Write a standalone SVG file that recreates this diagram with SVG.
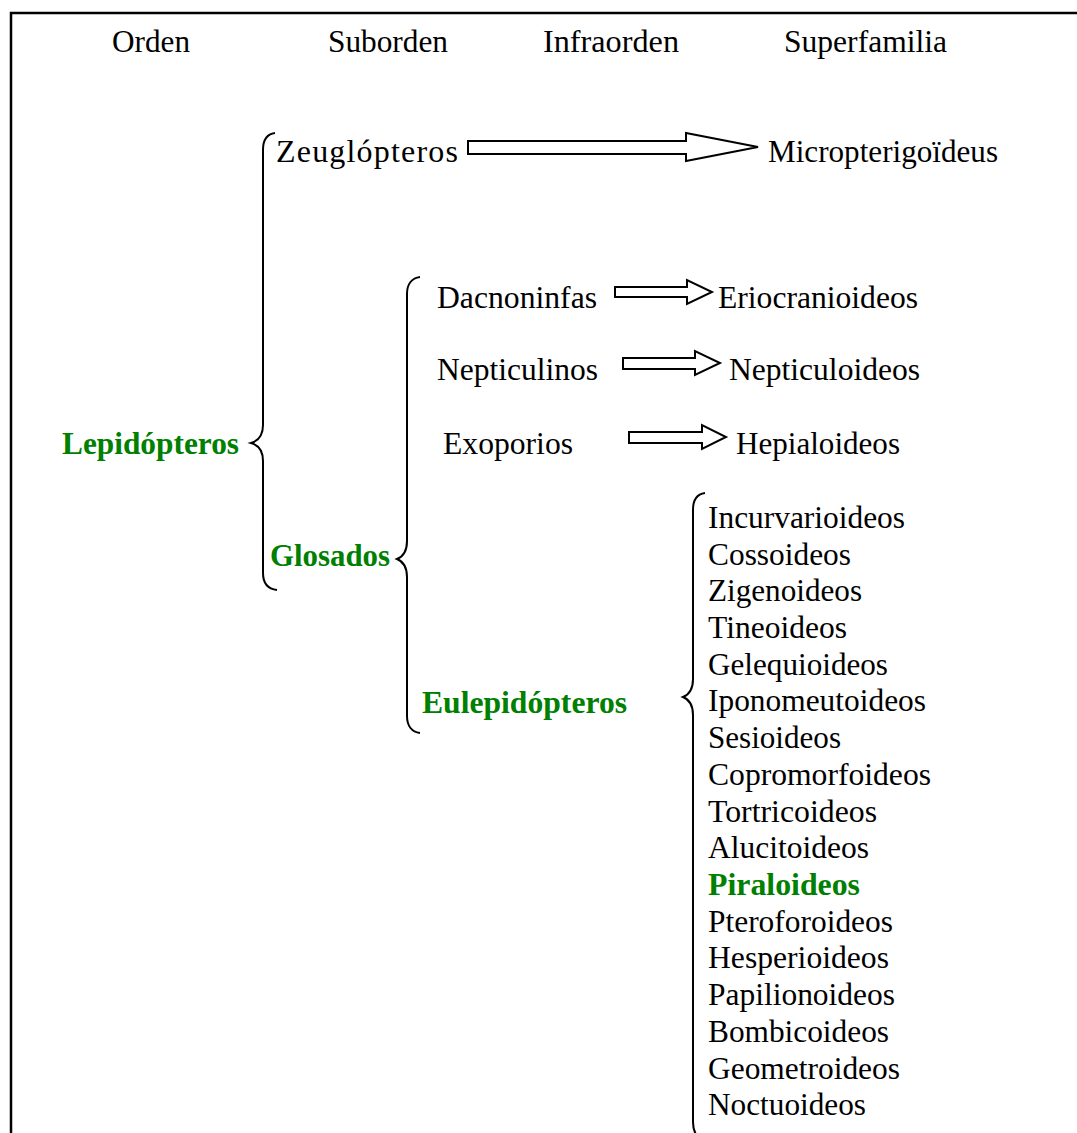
<svg xmlns="http://www.w3.org/2000/svg" width="1077" height="1133" viewBox="0 0 1077 1133">
<style>
text{font-family:"Liberation Serif","Times New Roman",serif;font-size:32px;fill:#000}
.g{fill:#008000;font-weight:bold}
.brace{fill:none;stroke:#000;stroke-width:2}
.arrow{fill:#fff;stroke:#000;stroke-width:2;stroke-linejoin:miter}
.frame{fill:none;stroke:#000;stroke-width:2.5}
</style>
<rect width="1077" height="1133" fill="#fff"/>
<path class="frame" d="M11,1133 L11,13 L1077,13"/>
<g id="headers">
<text x="112" y="52" textLength="78" lengthAdjust="spacingAndGlyphs">Orden</text>
<text x="328" y="52" textLength="120" lengthAdjust="spacingAndGlyphs">Suborden</text>
<text x="543" y="52" textLength="136" lengthAdjust="spacingAndGlyphs">Infraorden</text>
<text x="784" y="52" textLength="163" lengthAdjust="spacingAndGlyphs">Superfamilia</text>
</g>
<g id="connectors">
<path class="brace" d="M275,133 C267,134 263,140 263,150 L263,425 C263,436 258,441 251,443 C258,445 263,450 263,461 L263,573 C263,583 268,589 277,590"/>
<path class="brace" d="M420,277 C412,278 407,284 407,294 L407,541 C407,552 402,557 397,559 C402,561 407,566 407,577 L407,716 C407,726 412,732 420,733"/>
<path class="brace" d="M705,493 C697,494 693,500 693,510 L693,679 C693,690 688,695 683,697 C688,699 693,704 693,715 L693,1122 C693,1134 698,1140 708,1142"/>
<polygon class="arrow" points="468,141 686,141 686,133 758,147 686,161 686,154 468,154"/>
<polygon class="arrow" points="615,287 687,287 687,280 712,292 687,304 687,297 615,297"/>
<polygon class="arrow" points="623,358 695,358 695,351 720,363 695,375 695,369 623,369"/>
<polygon class="arrow" points="629,432 702,432 702,425 726,437 702,449 702,443 629,443"/>
</g>
<g id="lepidopteros"><text class="g" x="62" y="454" textLength="177" lengthAdjust="spacingAndGlyphs">Lepidópteros</text></g>
<g id="zeuglopteros"><text x="276" y="162" textLength="182">Zeuglópteros</text></g>
<g id="micropterigoideus"><text x="768" y="162" textLength="230" lengthAdjust="spacingAndGlyphs">Micropterigoïdeus</text></g>
<g id="glosados"><text class="g" x="270" y="566" textLength="120" lengthAdjust="spacingAndGlyphs">Glosados</text></g>
<g id="dacnoninfas"><text x="437" y="308" textLength="160" lengthAdjust="spacingAndGlyphs">Dacnoninfas</text></g>
<g id="eriocranioideos"><text x="718" y="308" textLength="200" lengthAdjust="spacingAndGlyphs">Eriocranioideos</text></g>
<g id="nepticulinos"><text x="437" y="380" textLength="161" lengthAdjust="spacingAndGlyphs">Nepticulinos</text></g>
<g id="nepticuloideos"><text x="729" y="380" textLength="191" lengthAdjust="spacingAndGlyphs">Nepticuloideos</text></g>
<g id="exoporios"><text x="443" y="454" textLength="130" lengthAdjust="spacingAndGlyphs">Exoporios</text></g>
<g id="hepialoideos"><text x="736" y="454" textLength="164" lengthAdjust="spacingAndGlyphs">Hepialoideos</text></g>
<g id="eulepidopteros"><text class="g" x="422" y="713" textLength="205" lengthAdjust="spacingAndGlyphs">Eulepidópteros</text></g>
<g id="superfamilias">
<text x="708" y="528" textLength="197" lengthAdjust="spacingAndGlyphs">Incurvarioideos</text>
<text x="708" y="565" textLength="143" lengthAdjust="spacingAndGlyphs">Cossoideos</text>
<text x="708" y="601" textLength="154" lengthAdjust="spacingAndGlyphs">Zigenoideos</text>
<text x="708" y="638" textLength="139" lengthAdjust="spacingAndGlyphs">Tineoideos</text>
<text x="708" y="675" textLength="180" lengthAdjust="spacingAndGlyphs">Gelequioideos</text>
<text x="708" y="711" textLength="218" lengthAdjust="spacingAndGlyphs">Iponomeutoideos</text>
<text x="708" y="748" textLength="133" lengthAdjust="spacingAndGlyphs">Sesioideos</text>
<text x="708" y="785" textLength="223" lengthAdjust="spacingAndGlyphs">Copromorfoideos</text>
<text x="708" y="822" textLength="169" lengthAdjust="spacingAndGlyphs">Tortricoideos</text>
<text x="708" y="858" textLength="161" lengthAdjust="spacingAndGlyphs">Alucitoideos</text>
<text class="g" x="708" y="895" textLength="152" lengthAdjust="spacingAndGlyphs">Piraloideos</text>
<text x="708" y="932" textLength="185" lengthAdjust="spacingAndGlyphs">Pteroforoideos</text>
<text x="708" y="968" textLength="181" lengthAdjust="spacingAndGlyphs">Hesperioideos</text>
<text x="708" y="1005" textLength="187" lengthAdjust="spacingAndGlyphs">Papilionoideos</text>
<text x="708" y="1042" textLength="181" lengthAdjust="spacingAndGlyphs">Bombicoideos</text>
<text x="708" y="1079" textLength="192" lengthAdjust="spacingAndGlyphs">Geometroideos</text>
<text x="708" y="1115" textLength="158" lengthAdjust="spacingAndGlyphs">Noctuoideos</text>
</g>
</svg>
